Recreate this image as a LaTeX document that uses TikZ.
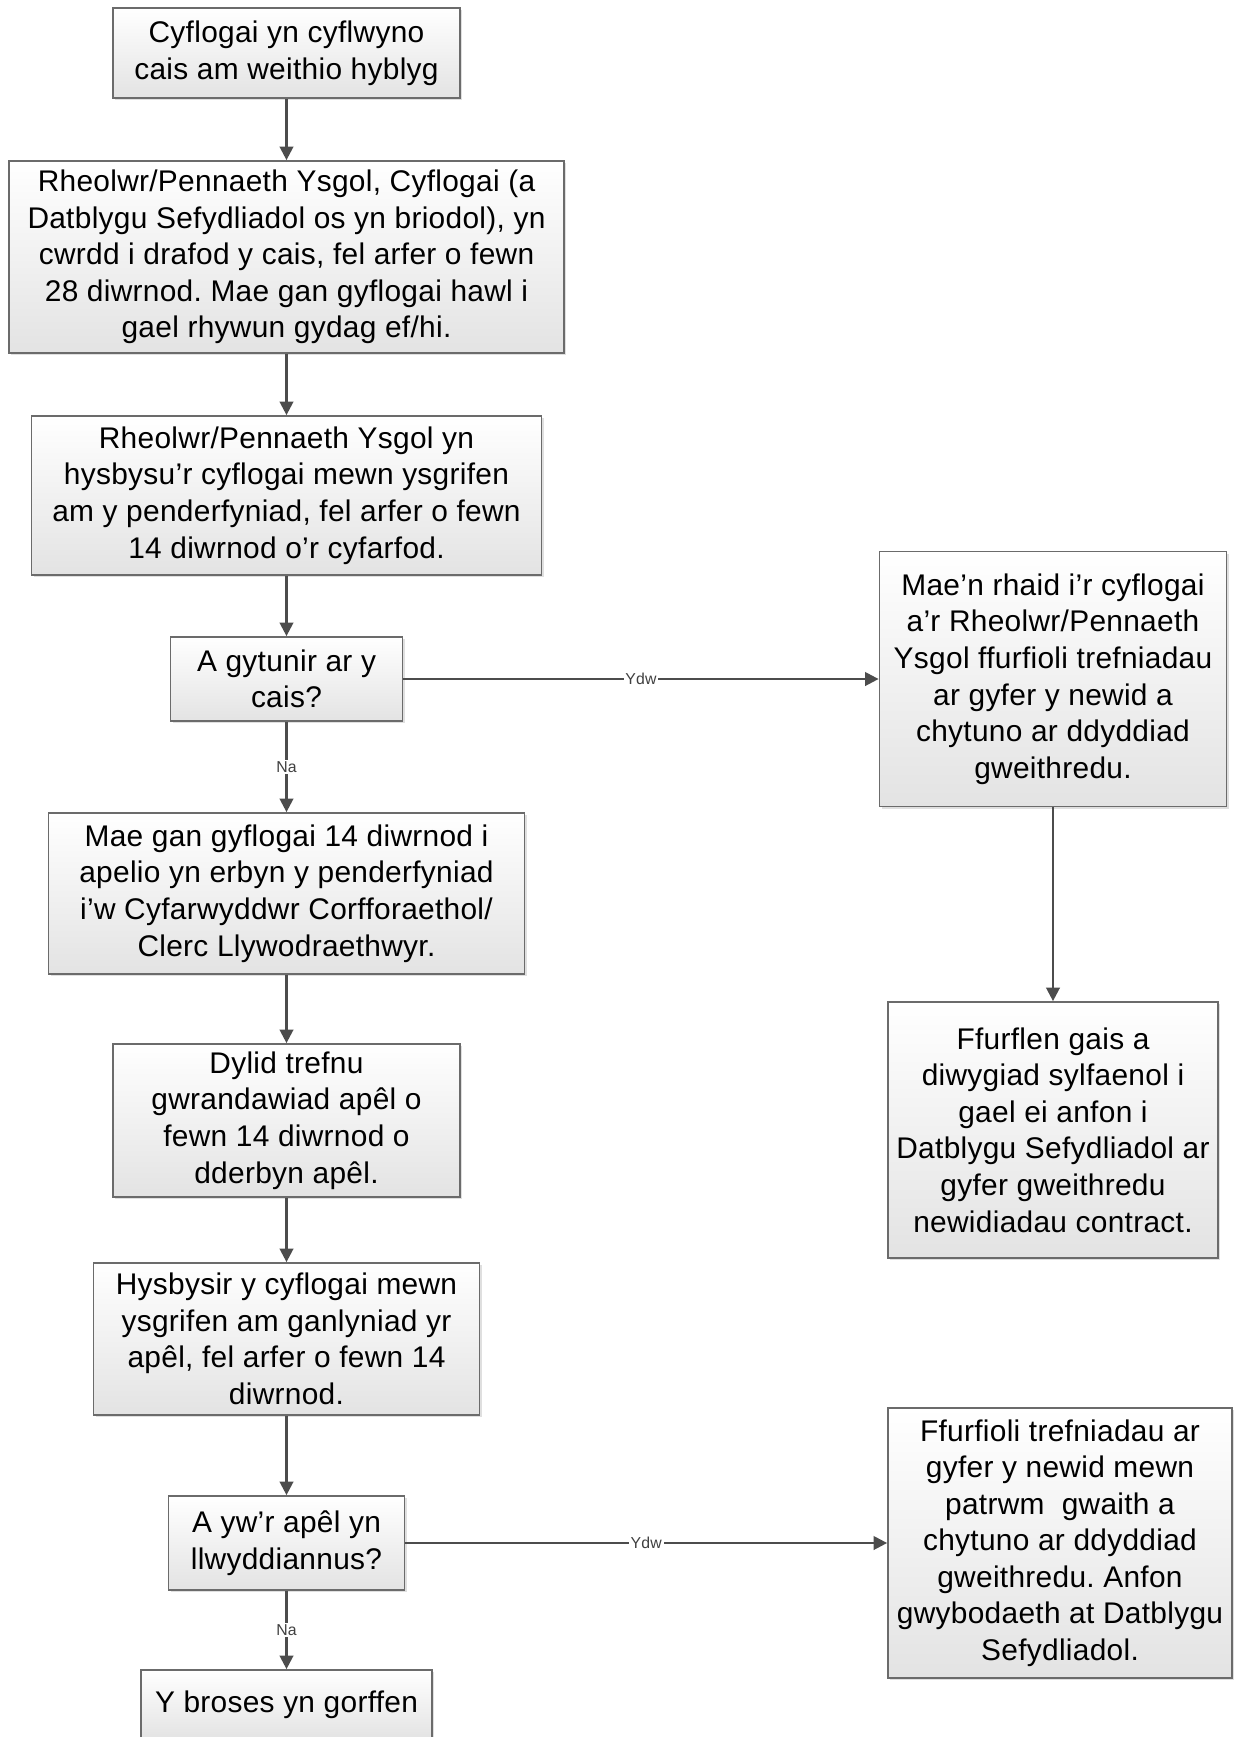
\documentclass[tikz,border=0pt]{standalone}
\usepackage{fontspec}
\setmainfont{Liberation Sans}[LetterSpace=1]
\usetikzlibrary{arrows.meta,shadows}
\colorlet{gax}{black!70}
\colorlet{gbd}{black!58}
\frenchspacing

\begin{document}
\begin{tikzpicture}[
            blk/.style={draw=gbd,line width=1pt,top color=white,bottom color=black!11,
                drop shadow={shadow xshift=1.3pt,shadow yshift=-1.3pt,opacity=0.25},
                align=center,inner sep=0pt,font=\fontsize{17}{20.8}\selectfont},
            flow/.style={gax,line width=1.35pt,-{Triangle[length=0.27cm,width=0.27cm]}},
            ans/.style={fill=white,inner sep=1pt,text=black!75,font=\fontsize{9}{9}\selectfont}
        ]
            \useasboundingbox (0,0) rectangle (24.7,-34.74);
            % left column
            \node[blk,minimum width=6.94cm,minimum height=1.80cm] (start) at (5.73,-1.06)
                {Cyflogai yn cyflwyno\\cais am weithio hyblyg};
            \node[blk,minimum width=11.10cm,minimum height=3.84cm] (meet) at (5.73,-5.14)
                {Rheolwr/Pennaeth Ysgol, Cyflogai (a\\Datblygu Sefydliadol os yn briodol), yn\\cwrdd i drafod y cais, fel arfer o fewn\\28 diwrnod. Mae gan gyflogai hawl i\\gael rhywun gydag ef/hi.};
            \node[blk,minimum width=10.20cm,minimum height=3.18cm] (inform) at (5.73,-9.91)
                {Rheolwr/Pennaeth Ysgol yn\\hysbysu’r cyflogai mewn ysgrifen\\am y penderfyniad, fel arfer o fewn\\14 diwrnod o’r cyfarfod.};
            \node[blk,minimum width=4.64cm,minimum height=1.68cm] (agreed) at (5.73,-13.58)
                {A gytunir ar y\\cais?};
            \node[blk,minimum width=9.52cm,minimum height=3.22cm] (appeal) at (5.73,-17.87)
                {Mae gan gyflogai 14 diwrnod i\\apelio yn erbyn y penderfyniad\\i’w Cyfarwyddwr Corfforaethol/\\Clerc Llywodraethwyr.};
            \node[blk,minimum width=6.94cm,minimum height=3.06cm] (hearing) at (5.73,-22.41)
                {Dylid trefnu\\gwrandawiad apêl o\\fewn 14 diwrnod o\\dderbyn apêl.};
            \node[blk,minimum width=7.72cm,minimum height=3.04cm] (outcome) at (5.73,-26.78)
                {Hysbysir y cyflogai mewn\\ysgrifen am ganlyniad yr\\apêl, fel arfer o fewn 14\\diwrnod.};
            \node[blk,minimum width=4.72cm,minimum height=1.88cm] (success) at (5.73,-30.86)
                {A yw’r apêl yn\\llwyddiannus?};
            \node[blk,minimum width=5.82cm,minimum height=1.40cm] (finish) at (5.73,-34.10)
                {Y broses yn gorffen};
            % right column
            \node[blk,minimum width=6.94cm,minimum height=5.10cm] (arrange) at (21.06,-13.58)
                {Mae’n rhaid i’r cyflogai\\a’r Rheolwr/Pennaeth\\Ysgol ffurfioli trefniadau\\ar gyfer y newid a\\chytuno ar ddyddiad\\gweithredu.};
            \node[blk,minimum width=6.60cm,minimum height=5.12cm] (form) at (21.06,-22.60)
                {Ffurflen gais a\\diwygiad sylfaenol i\\gael ei anfon i\\Datblygu Sefydliadol ar\\gyfer gweithredu\\newidiadau contract.};
            \node[blk,minimum width=6.88cm,minimum height=5.40cm] (formal) at (21.20,-30.86)
                {Ffurfioli trefniadau ar\\gyfer y newid mewn\\patrwm~ gwaith a\\chytuno ar ddyddiad\\gweithredu. Anfon\\gwybodaeth at Datblygu\\Sefydliadol.};
            % connectors
            \draw [flow] (start) -- (meet);
            \draw [flow] (meet) -- (inform);
            \draw [flow] (inform) -- (agreed);
            \draw [flow] (agreed) -- node[ans]{Na} (appeal);
            \draw [flow] (agreed) -- node[ans]{Ydw} (arrange);
            \draw [flow] (arrange) -- (form);
            \draw [flow] (appeal) -- (hearing);
            \draw [flow] (hearing) -- (outcome);
            \draw [flow] (outcome) -- (success);
            \draw [flow] (success) -- node[ans]{Na} (finish);
            \draw [flow] (success) -- node[ans]{Ydw} (formal);
        \end{tikzpicture}
\end{document}
